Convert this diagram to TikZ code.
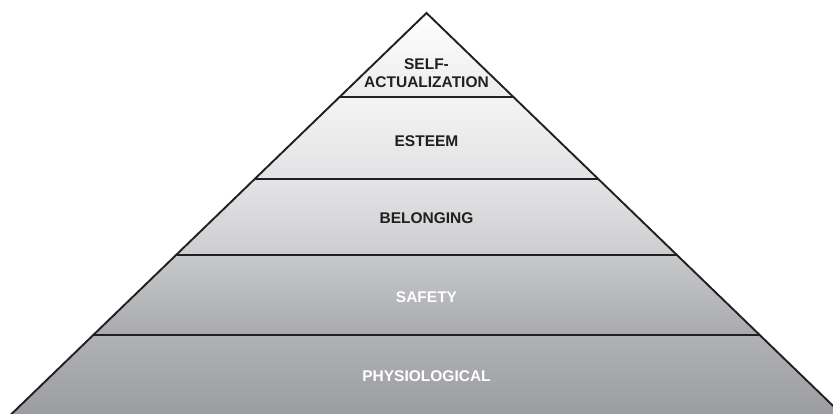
\documentclass[tikz,border=0pt]{standalone}
\usepackage{fontspec}
\setmainfont{Liberation Sans}
\definecolor{ink}{HTML}{231F20}
\tikzset{
  lbl/.style={font=\fontsize{15.5}{18}\selectfont\bfseries, text=ink, align=center, inner sep=0pt},
  lblw/.style={lbl, text=white}
}
\begin{document}
\begin{tikzpicture}
[x=1pt,y=-1pt,line width=1.9pt]
\useasboundingbox (0,0) rectangle (833,413);

\shade[top color=white, bottom color={rgb,255:red,236;green,236;blue,237}] (426.5,13) -- (513.1,96.7) -- (339.9,96.7) -- cycle; %self
\shade[top color={rgb,255:red,244;green,244;blue,245}, bottom color={rgb,255:red,226;green,226;blue,228}] (339.9,96.7) -- (513.1,96.7) -- (598.6,179.3) -- (254.4,179.3) -- cycle; %esteem
\shade[top color={rgb,255:red,228;green,228;blue,230}, bottom color={rgb,255:red,204;green,205;blue,207}] (254.4,179.3) -- (598.6,179.3) -- (677.0,255) -- (176.0,255) -- cycle; %belonging
\shade[top color={rgb,255:red,200;green,201;blue,203}, bottom color={rgb,255:red,169;green,170;blue,173}] (176.0,255) -- (677.0,255) -- (759.8,335) -- (93.2,335) -- cycle; %safety
\shade[top color={rgb,255:red,176;green,177;blue,180}, bottom color={rgb,255:red,155;green,156;blue,160}] (93.2,335) -- (759.8,335) -- (847.7,420) -- (5.3,420) -- cycle; %physiological

\draw[ink] (5.3,420) -- (426.5,13) -- (847.7,420); %sides
\draw[ink] (339.9,96.7) -- (513.1,96.7);
\draw[ink] (254.4,179.3) -- (598.6,179.3);
\draw[ink] (176.0,255) -- (677.0,255);
\draw[ink] (93.2,335) -- (759.8,335);

\node[lbl] (self) at (426.5,73) {SELF-\\ACTUALIZATION};
\node[lbl] (esteem) at (426.5,141.5) {ESTEEM};
\node[lbl] (belonging) at (426.5,218.5) {BELONGING};
\node[lblw] (safety) at (426.5,297.5) {SAFETY};
\node[lblw] (physio) at (426.5,376) {PHYSIOLOGICAL};

\end{tikzpicture}
\end{document}
